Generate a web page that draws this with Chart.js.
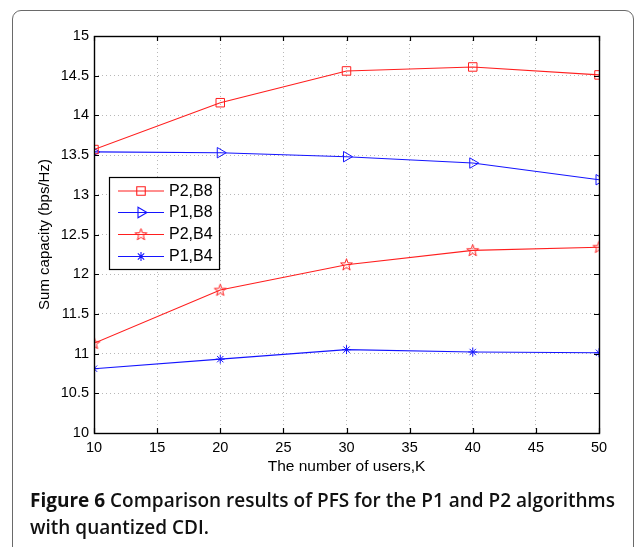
<!DOCTYPE html>
<html>
<head>
<meta charset="utf-8">
<script src="https://cdn.jsdelivr.net/npm/chart.js@4/dist/chart.umd.min.js"></script>
<style>
  html, body { margin: 0; padding: 0; background: #fff; }
  body { width: 637px; height: 547px; position: relative; overflow: hidden; }
  #frame { position: absolute; left: 12px; top: 10px; width: 622px; height: 620px;
           border: 1px solid #6a6a6a; border-radius: 9px; box-sizing: border-box; }
  #wrap { position: absolute; left: 0; top: 0; width: 637px; height: 547px; }
  #caption { position: absolute; left: 30px; top: 487px; font-family: "Open Sans", sans-serif;
             font-size: 19px; line-height: 26.5px; color: #111; white-space: nowrap;
             transform-origin: 0 0; }
  #caption b { font-weight: 700; }
  #caption span.rest { font-weight: 600; }
</style>
</head>
<body>
<div id="frame"></div>
<div id="wrap"><canvas id="c" width="637" height="547"></canvas></div>
<div id="caption"><span id="l1"><b>Figure 6</b><span class="rest"> Comparison results of PFS for the P1 and P2 algorithms</span></span><br><span class="rest">with quantized CDI.</span></div>
<script>
// ---- data ----
const users = [10, 20, 30, 40, 50];
const p2b8 = [13.57, 14.16, 14.56, 14.61, 14.51];
const p1b8 = [13.54, 13.53, 13.48, 13.40, 13.19];
const p2b4 = [11.13, 11.80, 12.12, 12.30, 12.34];
const p1b4 = [10.81, 10.93, 11.05, 11.02, 11.01];
const seriesNames = ['P2,B8', 'P1,B8', 'P2,B4', 'P1,B4'];
const xTickLabels = ['10', '15', '20', '25', '30', '35', '40', '45', '50'];
const yTickLabels = ['10', '10.5', '11', '11.5', '12', '12.5', '13', '13.5', '14', '14.5', '15'];
const xTitle = 'The number of users,K';
const yTitle = 'Sum capacity (bps/Hz)';

const RED = 'rgb(255,30,30)';
const BLUE = 'rgb(20,20,255)';
const FONT = '"Liberation Sans", Arial, Helvetica, sans-serif';

// pentagram marker image
function makePentagram(color) {
  const c = document.createElement('canvas');
  c.width = 15; c.height = 15;
  const g = c.getContext('2d');
  g.strokeStyle = color; g.lineWidth = 1;
  g.beginPath();
  const cx = 7.5, cy = 7.8, R = 6.2, r = 2.5;
  for (let i = 0; i < 10; i++) {
    const a = -Math.PI / 2 + i * Math.PI / 5;
    const rad = i % 2 === 0 ? R : r;
    const px = cx + rad * Math.cos(a), py = cy + rad * Math.sin(a);
    if (i === 0) g.moveTo(px, py); else g.lineTo(px, py);
  }
  g.closePath(); g.stroke();
  return c;
}
const starImg = makePentagram(RED);

const pts = arr => users.map((u, i) => ({ x: u, y: arr[i] }));

const datasets = [
  { label: seriesNames[0], data: pts(p2b8), borderColor: RED, backgroundColor: 'rgba(0,0,0,0)',
    pointStyle: 'rect', pointRadius: 6, pointBorderColor: RED, pointBackgroundColor: 'rgba(0,0,0,0)', pointBorderWidth: 1, borderWidth: 1.1 },
  { label: seriesNames[1], data: pts(p1b8), borderColor: BLUE, backgroundColor: 'rgba(0,0,0,0)',
    pointStyle: 'triangle', pointRotation: 90, pointRadius: 6, pointBorderColor: BLUE, pointBackgroundColor: 'rgba(0,0,0,0)', pointBorderWidth: 1, borderWidth: 1.1 },
  { label: seriesNames[2], data: pts(p2b4), borderColor: RED, backgroundColor: 'rgba(0,0,0,0)',
    pointStyle: starImg, pointRadius: 6, pointBorderColor: RED, pointBackgroundColor: 'rgba(0,0,0,0)', pointBorderWidth: 1, borderWidth: 1.1 },
  { label: seriesNames[3], data: pts(p1b4), borderColor: BLUE, backgroundColor: 'rgba(0,0,0,0)',
    pointStyle: 'star', pointRadius: 4.5, pointBorderColor: BLUE, pointBackgroundColor: 'rgba(0,0,0,0)', pointBorderWidth: 1, borderWidth: 1.1 }
];

// box + inward ticks
const boxPlugin = {
  id: 'boxPlugin',
  afterDatasetsDraw(chart) {
    const { ctx, chartArea: a, scales: { x, y } } = chart;
    ctx.save();
    ctx.strokeStyle = '#000';
    ctx.lineWidth = 1.2;
    const tl = 5;
    ctx.beginPath();
    xTickLabels.forEach(t => {
      const px = Math.round(x.getPixelForValue(parseFloat(t))) + 0.5;
      ctx.moveTo(px, a.bottom); ctx.lineTo(px, a.bottom - tl);
      ctx.moveTo(px, a.top); ctx.lineTo(px, a.top + tl);
    });
    yTickLabels.forEach(t => {
      const py = Math.round(y.getPixelForValue(parseFloat(t))) + 0.5;
      ctx.moveTo(a.left, py); ctx.lineTo(a.left + tl, py);
      ctx.moveTo(a.right, py); ctx.lineTo(a.right - tl, py);
    });
    ctx.stroke();
    ctx.lineWidth = 1.4;
    ctx.strokeRect(Math.round(a.left) + 0.5, Math.round(a.top) + 0.5, Math.round(a.right - a.left), Math.round(a.bottom - a.top));
    ctx.restore();
  }
};

// legend drawn inside axes
const legendPlugin = {
  id: 'legendPlugin',
  afterDraw(chart) {
    const { ctx } = chart;
    const bx = 109.5, by = 177.5, bw = 110, bh = 92;
    ctx.save();
    ctx.fillStyle = '#fff';
    ctx.fillRect(bx, by, bw, bh);
    ctx.strokeStyle = '#000'; ctx.lineWidth = 1.2;
    ctx.strokeRect(bx, by, bw, bh);
    const rows = [191, 212.5, 234.5, 256.5];
    chart.data.datasets.forEach((ds, i) => {
      const yy = rows[i];
      ctx.strokeStyle = ds.borderColor; ctx.lineWidth = 1.1;
      ctx.beginPath(); ctx.moveTo(118, yy); ctx.lineTo(164, yy); ctx.stroke();
      const opts = { pointStyle: ds.pointStyle, rotation: ds.pointRotation || 0, radius: ds.pointRadius, borderWidth: 1 };
      ctx.strokeStyle = ds.pointBorderColor; ctx.fillStyle = 'rgba(0,0,0,0)';
      Chart.helpers.drawPoint(ctx, opts, 141, yy);
      ctx.fillStyle = '#000';
      ctx.font = '16px ' + FONT;
      ctx.textBaseline = 'middle'; ctx.textAlign = 'left';
      ctx.fillText(ds.label, 169, yy + 0.5);
    });
    ctx.restore();
  }
};

new Chart(document.getElementById('c'), {
  type: 'line',
  data: { datasets },
  options: {
    responsive: false,
    animation: false,
    events: [],
    layout: { padding: { left: 0, right: 38, top: 36, bottom: 71 } },
    plugins: { legend: { display: false }, tooltip: { enabled: false } },
    scales: {
      x: {
        type: 'linear', min: 10, max: 50,
        afterFit: s => { s.height = 43; },
        afterBuildTicks: s => { s.ticks = xTickLabels.map(v => ({ value: parseFloat(v) })); },
        ticks: { color: '#000', padding: 6, maxRotation: 0, autoSkip: false,
                 font: { family: FONT, size: 14.5 },
                 callback: (v) => xTickLabels.find(t => parseFloat(t) === v) },
        grid: { color: '#b8b8b8', lineWidth: 1, drawTicks: false },
        border: { display: false, dash: [1, 3] },
        title: { display: true, text: xTitle, color: '#000', font: { family: FONT, size: 15.5 }, padding: { top: 0, bottom: 0 } }
      },
      y: {
        type: 'linear', min: 10, max: 15,
        afterFit: s => { s.width = 94; },
        afterBuildTicks: s => { s.ticks = yTickLabels.map(v => ({ value: parseFloat(v) })); },
        ticks: { color: '#000', padding: 5, autoSkip: false,
                 font: { family: FONT, size: 14.5 },
                 callback: (v) => yTickLabels.find(t => parseFloat(t) === v) },
        grid: { color: '#b8b8b8', lineWidth: 1, drawTicks: false },
        border: { display: false, dash: [1, 3] },
        title: { display: true, text: yTitle, color: '#000', font: { family: FONT, size: 15 }, padding: { top: 36, bottom: 0 } }
      }
    },
    elements: { line: { tension: 0 } }
  },
  plugins: [boxPlugin, legendPlugin]
});

// fit caption width to reference (first line ~585px)
const cap = document.getElementById('caption');
const w = document.getElementById('l1').getBoundingClientRect().width;
if (w > 0) cap.style.transform = 'scaleX(' + (585 / w) + ')';
</script>
</body>
</html>
